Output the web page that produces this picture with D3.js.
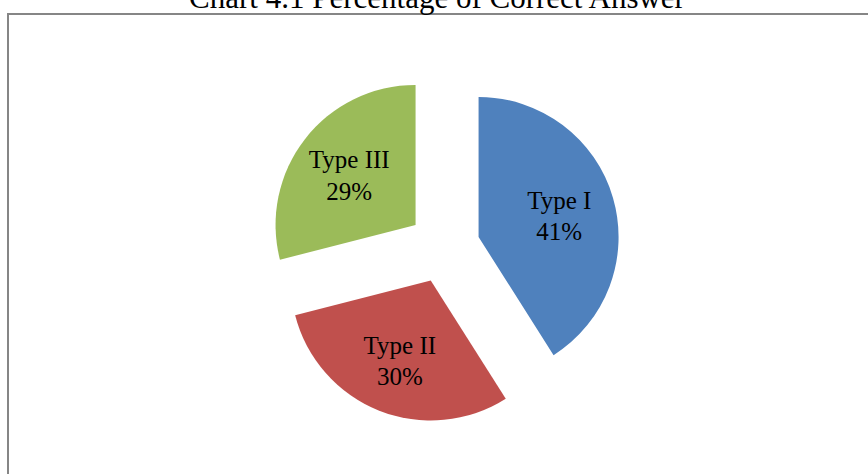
<!DOCTYPE html>
<meta charset="utf-8">
<style>
body { margin: 0; background: #fff; }
</style>
<body>
<svg width="868" height="474"></svg>
<script src="https://d3js.org/d3.v7.min.js"></script>
<script>
var labels = ["Type I", "Type II", "Type III"];
var values = [41, 30, 29];
var colors = ["#4f81bd", "#c0504d", "#9bbb59"];
var title = "Chart 4.1 Percentage of Correct Answer";

var svg = d3.select("svg"),
    cx = 444, cy = 247,
    r = 140,
    explode = 36;

// chart area border
svg.append("rect")
    .attr("x", 8).attr("y", 14)
    .attr("width", 880).attr("height", 480)
    .attr("fill", "none")
    .attr("stroke", "#868686")
    .attr("stroke-width", 2);

svg.append("text")
    .attr("x", 437).attr("y", 8)
    .attr("text-anchor", "middle")
    .attr("font-family", "Liberation Serif, Times New Roman, serif")
    .attr("font-size", 31)
    .text(title);

var pie = d3.pie().sort(null);
var arc = d3.arc().innerRadius(0).outerRadius(r);
var labelArc = d3.arc().innerRadius(r * 0.6).outerRadius(r * 0.6);

var g = svg.append("g").attr("transform", "translate(" + cx + "," + cy + ")");

var slices = g.selectAll("g")
    .data(pie(values))
    .enter().append("g")
      .attr("transform", function(d) {
        var a = (d.startAngle + d.endAngle) / 2;
        return "translate(" + (Math.sin(a) * explode) + "," + (-Math.cos(a) * explode) + ")";
      });

slices.append("path")
    .attr("d", arc)
    .attr("fill", function(d, i) { return colors[i]; });

var txt = slices.append("text")
    .attr("transform", function(d) { return "translate(" + labelArc.centroid(d) + ")"; })
    .attr("text-anchor", "middle")
    .attr("font-family", "Liberation Serif, Times New Roman, serif")
    .attr("font-size", 25)
    .attr("fill", "#000");

txt.append("tspan")
    .attr("x", 0).attr("dy", "-0.2em")
    .text(function(d, i) { return labels[i]; });
txt.append("tspan")
    .attr("x", 0).attr("dy", "1.25em")
    .text(function(d) { return d.value + "%"; });
</script>
</body>
